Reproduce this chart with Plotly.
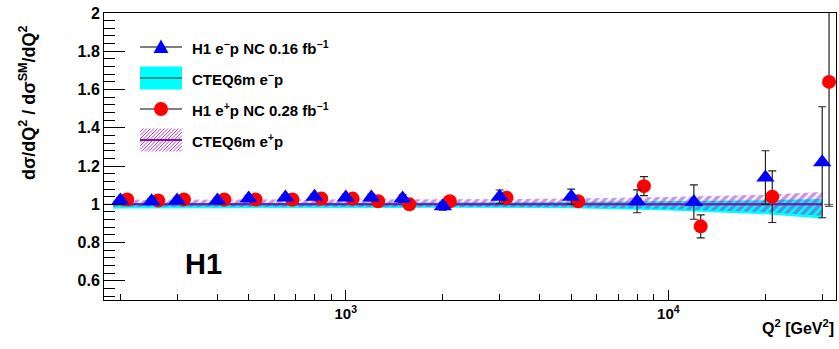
import numpy as np
import plotly.graph_objects as go

# ---- measured ratios to the Standard Model expectation ----
q2_em = [200, 250, 300, 400, 500, 650, 800, 1000, 1200, 1500, 2000, 3000, 5000, 8000, 12000, 20000, 30000]
ratio_em = [1.02, 1.016, 1.02, 1.02, 1.03, 1.036, 1.04, 1.036, 1.036, 1.03, 0.99, 1.04, 1.04, 1.016, 1.012, 1.14, 1.22]
err_em = [0.015, 0.015, 0.015, 0.015, 0.015, 0.015, 0.016, 0.016, 0.018, 0.02, 0.02, 0.035, 0.04, 0.06, 0.09, 0.14, 0.29]

q2_ep = [210, 262, 315, 420, 525, 683, 840, 1050, 1260, 1575, 2100, 3150, 5250, 8400, 12600, 21000, 31500]
ratio_ep = [1.025, 1.02, 1.025, 1.025, 1.025, 1.025, 1.03, 1.03, 1.016, 1.0, 1.016, 1.035, 1.016, 1.095, 0.885, 1.04, 1.64]
err_ep = [0.012, 0.012, 0.012, 0.012, 0.012, 0.013, 0.013, 0.014, 0.015, 0.016, 0.016, 0.02, 0.025, 0.05, 0.06, 0.135, 0.65]

# ---- CTEQ6m PDF uncertainty bands ----
band_q2 = [190, 300, 500, 1000, 2000, 5000, 10000, 20000, 30000]
band_em_lo = [0.978, 0.978, 0.978, 0.98, 0.982, 0.98, 0.968, 0.948, 0.926]
band_em_hi = [1.008, 1.008, 1.008, 1.008, 1.01, 1.012, 1.016, 1.022, 1.028]
band_ep_lo = [0.988, 0.988, 0.988, 0.988, 0.988, 0.985, 0.976, 0.96, 0.94]
band_ep_hi = [1.024, 1.024, 1.024, 1.025, 1.026, 1.03, 1.038, 1.05, 1.064]
band_mid = [1.0, 1.0, 1.0, 1.0, 1.0, 1.0, 1.0, 1.0, 1.0]

# ---- axis ticks ----
x_major = [1000, 10000]
x_major_text = ["10<sup>3</sup>", "10<sup>4</sup>"]
x_minor = [200, 300, 400, 500, 600, 700, 800, 900,
           2000, 3000, 4000, 5000, 6000, 7000, 8000, 9000, 20000, 30000]
y_major = [0.6, 0.8, 1.0, 1.2, 1.4, 1.6, 1.8, 2.0]
y_major_text = ["0.6", "0.8", "1", "1.2", "1.4", "1.6", "1.8", "2"]

W, H = 839, 349
L, R, T, B = 104, 3, 13, 49
PW, PH = W - L - R, H - T - B

FONT = "Liberation Sans"
CYAN = "#00ffff"
TEAL = "#2f8f8f"
HATCH = "#9a28c8"
PURPLE = "#8010b0"


def px(x):
    return (x - L) / PW


def py(y):
    return (H - B - y) / PH


fig = go.Figure()

# e-p band
fig.add_trace(go.Scatter(x=band_q2, y=band_em_lo, mode="lines", line=dict(width=0),
                         showlegend=False, hoverinfo="skip"))
fig.add_trace(go.Scatter(x=band_q2, y=band_em_hi, mode="lines", line=dict(width=0),
                         fill="tonexty", fillcolor=CYAN, showlegend=False, hoverinfo="skip"))
fig.add_trace(go.Scatter(x=band_q2, y=band_mid, mode="lines", line=dict(width=2, color=TEAL),
                         showlegend=False, hoverinfo="skip"))

# e+p band (hatched)
fig.add_trace(go.Scatter(x=band_q2, y=band_ep_lo, mode="lines", line=dict(width=0),
                         showlegend=False, hoverinfo="skip"))
fig.add_trace(go.Scatter(x=band_q2, y=band_ep_hi, mode="lines", line=dict(width=0),
                         fill="tonexty", fillcolor="rgba(0,0,0,0)",
                         fillpattern=dict(shape="/", fgcolor=HATCH, bgcolor="rgba(0,0,0,0)",
                                          size=6, solidity=0.6),
                         showlegend=False, hoverinfo="skip"))
fig.add_trace(go.Scatter(x=band_q2, y=band_mid, mode="lines", line=dict(width=2, color=PURPLE),
                         showlegend=False, hoverinfo="skip"))

# e+p data
fig.add_trace(go.Scatter(x=q2_ep, y=ratio_ep, mode="markers",
                         marker=dict(symbol="circle", size=14, color="#ff0000", line=dict(width=0)),
                         error_y=dict(type="data", array=err_ep, color="#222222", thickness=1.2, width=4),
                         showlegend=False))
# e-p data
fig.add_trace(go.Scatter(x=q2_em, y=ratio_em, mode="markers",
                         marker=dict(symbol="triangle-up", size=16, color="#0000ff", line=dict(width=0)),
                         error_y=dict(type="data", array=err_em, color="#222222", thickness=1.2, width=4),
                         showlegend=False))

shapes = []
# reference line at unity
shapes.append(dict(type="line", xref="paper", yref="y", x0=0, x1=1, y0=1, y1=1,
                   line=dict(color="#666666", width=1, dash="dash"), layer="below"))

# ---- legend keys ----
kx0, kx1 = 140, 182
kxc = (kx0 + kx1) / 2
rows = [47, 78, 109, 140]

# row 1: line + triangle
shapes.append(dict(type="line", xref="paper", yref="paper", x0=px(kx0), x1=px(kx1),
                   y0=py(rows[0]), y1=py(rows[0]), line=dict(color="black", width=1)))
tri = "M {} {} L {} {} L {} {} Z".format(px(kxc - 7.5), py(rows[0] + 6), px(kxc + 7.5), py(rows[0] + 6),
                                         px(kxc), py(rows[0] - 7.5))
shapes.append(dict(type="path", xref="paper", yref="paper", path=tri,
                   fillcolor="#0000ff", line=dict(width=0)))
# row 2: cyan box with central line
shapes.append(dict(type="rect", xref="paper", yref="paper", x0=px(kx0), x1=px(kx1),
                   y0=py(rows[1] - 11.5), y1=py(rows[1] + 11.5), fillcolor=CYAN, line=dict(width=0)))
shapes.append(dict(type="line", xref="paper", yref="paper", x0=px(kx0), x1=px(kx1),
                   y0=py(rows[1]), y1=py(rows[1]), line=dict(color=TEAL, width=2)))
# row 3: line + circle
shapes.append(dict(type="line", xref="paper", yref="paper", x0=px(kx0), x1=px(kx1),
                   y0=py(rows[2]), y1=py(rows[2]), line=dict(color="black", width=1)))
shapes.append(dict(type="circle", xref="paper", yref="paper", x0=px(kxc - 7), x1=px(kxc + 7),
                   y0=py(rows[2] - 7), y1=py(rows[2] + 7), fillcolor="#ff0000", line=dict(width=0)))
# row 4: hatched box with central line
bt, bb = rows[3] - 11.5, rows[3] + 11.5
segs = []
for s in np.arange(kx0 - (bb - bt), kx1 + 1, 3.5):
    xa, ya = s, bb
    xb, yb = s + (bb - bt), bt
    if xa < kx0:
        ya -= kx0 - xa
        xa = kx0
    if xb > kx1:
        yb += xb - kx1
        xb = kx1
    if xb > xa:
        segs.append("M {} {} L {} {}".format(px(xa), py(ya), px(xb), py(yb)))
shapes.append(dict(type="path", xref="paper", yref="paper", path=" ".join(segs),
                   line=dict(color="#c040d0", width=1)))
shapes.append(dict(type="line", xref="paper", yref="paper", x0=px(kx0), x1=px(kx1),
                   y0=py(rows[3]), y1=py(rows[3]), line=dict(color=PURPLE, width=2)))

legend_text = ["H1 e<sup>\u2212</sup>p NC 0.16 fb<sup>\u22121</sup>",
               "CTEQ6m e<sup>\u2212</sup>p",
               "H1 e<sup>+</sup>p NC 0.28 fb<sup>\u22121</sup>",
               "CTEQ6m e<sup>+</sup>p"]

annotations = []
for r, t in zip(rows, legend_text):
    annotations.append(dict(text=t, xref="paper", yref="paper", x=px(190), y=py(r),
                            xanchor="left", yanchor="middle", showarrow=False,
                            font=dict(family=FONT, size=15, color="black", weight="bold")))

annotations.append(dict(text="H1", xref="paper", yref="paper", x=px(203), y=py(264),
                        xanchor="center", yanchor="middle", showarrow=False,
                        font=dict(family=FONT, size=29, color="black", weight="bold")))
annotations.append(dict(text="dσ/dQ<sup>2</sup> / dσ<sup>SM</sup>/dQ<sup>2</sup>",
                        xref="paper", yref="paper", x=px(27), y=py(103), textangle=-90,
                        xanchor="center", yanchor="middle", showarrow=False,
                        font=dict(family=FONT, size=18, color="black", weight="bold")))
annotations.append(dict(text="Q<sup>2</sup> [GeV<sup>2</sup>]", xref="paper", yref="paper",
                        x=px(836), y=py(327), xanchor="right", yanchor="middle", showarrow=False,
                        font=dict(family=FONT, size=16, color="black", weight="bold")))

fig.update_layout(
    width=W, height=H,
    margin=dict(l=L, r=R, t=T, b=B, pad=0),
    paper_bgcolor="white", plot_bgcolor="white",
    showlegend=False,
    shapes=shapes, annotations=annotations,
    xaxis=dict(type="log", range=[np.log10(178), np.log10(33100)],
               tickmode="array", tickvals=x_major, ticktext=x_major_text,
               ticks="inside", ticklen=10, tickwidth=1, tickcolor="black",
               showline=True, linecolor="black", linewidth=1, mirror=True,
               showgrid=False, zeroline=False,
               tickfont=dict(family=FONT, size=15, color="black", weight="bold"),
               minor=dict(tickmode="array", tickvals=x_minor, ticks="inside", ticklen=6,
                          tickcolor="black", tickwidth=1, showgrid=False)),
    yaxis=dict(range=[0.5, 2.0], tickmode="array", tickvals=y_major, ticktext=y_major_text,
               ticks="inside", ticklen=21, tickwidth=1, tickcolor="black",
               showline=True, linecolor="black", linewidth=1, mirror=True,
               showgrid=False, zeroline=False,
               tickfont=dict(family=FONT, size=16, color="black", weight="bold"),
               minor=dict(dtick=0.04, tick0=0, ticks="inside", ticklen=11,
                          tickcolor="black", tickwidth=1, showgrid=False)),
)

fig.write_html("out.html")
